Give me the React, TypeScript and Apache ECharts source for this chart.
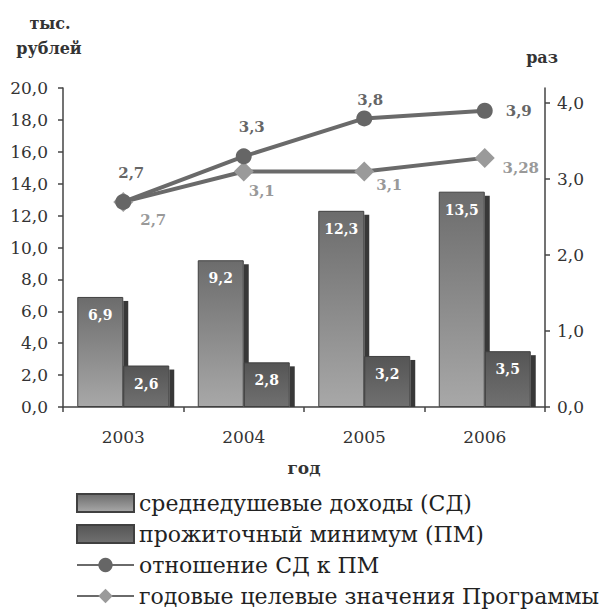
import React, { useEffect, useRef } from 'react';
import * as echarts from 'echarts';

// ---- data ----
const years = ['2003', '2004', '2005', '2006'];
const incomePerCapita = [6.9, 9.2, 12.3, 13.5];
const subsistenceMinimum = [2.6, 2.8, 3.2, 3.5];
const incomeToMinimumRatio = [2.7, 3.3, 3.8, 3.9];
const programTargets = [2.7, 3.1, 3.1, 3.28];
const leftAxisMax = 20;
const leftAxisStep = 2;
const rightAxisTicks = [0, 1, 2, 3, 4];
const rightAxisMax = 4.2;

const SD = 'среднедушевые доходы (СД)';
const PM = 'прожиточный минимум (ПМ)';
const RATIO = 'отношение СД к ПМ';
const TARGET = 'годовые целевые значения Программы';

// ---- styling ----
const FONT = 'DejaVu Serif';
const BAR_WIDTH = 46;
const DEPTH = 5;
const ratioLabelOffsets = [[8, -29], [8, -29], [6, -18], [34, 0]];
const targetLabelOffsets = [[30, 18], [18, 19], [25, 13], [36, 10]];

const fmt = (v: number) => String(v).replace('.', ',');

export default function App() {
  const ref = useRef<HTMLDivElement>(null);

  useEffect(() => {
    document.body.style.margin = '0';
    const chart = echarts.init(ref.current!, undefined, { renderer: 'svg' });

    const depthSeries = (name: string, values: number[], rightOffset: number) => ({
      type: 'custom',
      name,
      yAxisIndex: 0,
      silent: true,
      z: 2,
      data: values.map((v, i) => [i, v]),
      renderItem: (_params: any, api: any) => {
        const top = api.coord([api.value(0), api.value(1)]);
        const base = api.coord([api.value(0), 0]);
        return {
          type: 'rect',
          shape: {
            x: top[0] + rightOffset,
            y: top[1] + DEPTH - 1,
            width: DEPTH,
            height: base[1] - top[1] - DEPTH + 1,
          },
          style: { fill: '#383838' },
        };
      },
    });

    const barLabel = {
      show: true,
      position: 'insideTop',
      distance: 11,
      color: '#ffffff',
      fontWeight: 'bold',
      fontSize: 14,
      fontFamily: FONT,
      formatter: (p: any) => fmt(p.value),
    };

    chart.setOption({
      animation: false,
      backgroundColor: '#ffffff',
      textStyle: { fontFamily: FONT },
      grid: { left: 63, right: 58, top: 88, bottom: 204, containLabel: false },
      legend: {
        orient: 'vertical',
        left: 76,
        top: 492,
        padding: 0,
        itemWidth: 57,
        itemHeight: 18,
        itemGap: 9,
        selectedMode: false,
        textStyle: { fontFamily: FONT, fontSize: 22, color: '#222', lineHeight: 22 },
        data: [
          { name: SD, icon: 'rect' },
          { name: PM, icon: 'rect' },
          { name: RATIO },
          { name: TARGET },
        ],
      },
      xAxis: {
        type: 'category',
        data: years,
        boundaryGap: true,
        axisLine: { lineStyle: { color: '#444', width: 1.5 } },
        axisTick: { show: true, length: 5, alignWithLabel: false, lineStyle: { color: '#444', width: 1.5 } },
        axisLabel: { fontFamily: FONT, fontSize: 17, color: '#333', margin: 21 },
        splitLine: { show: false },
      },
      yAxis: [
        {
          type: 'value',
          min: 0,
          max: leftAxisMax,
          interval: leftAxisStep,
          axisLine: { show: true, lineStyle: { color: '#444', width: 1.5 } },
          axisTick: { show: true, length: 5, lineStyle: { color: '#444', width: 1.5 } },
          axisLabel: {
            fontFamily: FONT,
            fontSize: 17,
            color: '#333',
            margin: 15,
            formatter: (v: number) => v.toFixed(1).replace('.', ','),
          },
          splitLine: { show: false },
        },
        {
          type: 'value',
          position: 'right',
          min: 0,
          max: rightAxisMax,
          interval: 1,
          axisLine: { show: true, lineStyle: { color: '#444', width: 1.5 } },
          axisTick: { show: true, length: 5, customValues: rightAxisTicks, lineStyle: { color: '#444', width: 1.5 } },
          axisLabel: {
            fontFamily: FONT,
            fontSize: 17,
            color: '#333',
            margin: 12,
            customValues: rightAxisTicks,
            formatter: (v: number) => v.toFixed(1).replace('.', ','),
          },
          splitLine: { show: false },
        },
      ],
      graphic: [
        { type: 'text', x: 50, y: 23, style: { text: 'тыс.', font: `bold 16px "${FONT}"`, fill: '#333', align: 'center', verticalAlign: 'middle' } },
        { type: 'text', x: 49, y: 48, style: { text: 'рублей', font: `bold 16px "${FONT}"`, fill: '#333', align: 'center', verticalAlign: 'middle' } },
        { type: 'text', x: 542, y: 57, style: { text: 'раз', font: `bold 16px "${FONT}"`, fill: '#333', align: 'center', verticalAlign: 'middle' } },
        { type: 'text', x: 304, y: 468, style: { text: 'год', font: `bold 17px "${FONT}"`, fill: '#333', align: 'center', verticalAlign: 'middle' } },
      ],
      series: [
        depthSeries('sd-depth', incomePerCapita, 0),
        depthSeries('pm-depth', subsistenceMinimum, BAR_WIDTH),
        {
          type: 'bar',
          name: SD,
          yAxisIndex: 0,
          data: incomePerCapita,
          barWidth: BAR_WIDTH,
          barGap: '0%',
          z: 3,
          itemStyle: {
            color: new echarts.graphic.LinearGradient(0, 0, 0, 1, [
              { offset: 0, color: '#6c6c6c' },
              { offset: 1, color: '#a8a8a8' },
            ]),
            borderColor: '#404040',
            borderWidth: 1,
          },
          label: barLabel,
        },
        {
          type: 'bar',
          name: PM,
          yAxisIndex: 0,
          data: subsistenceMinimum,
          barWidth: BAR_WIDTH,
          barGap: '0%',
          z: 3,
          itemStyle: {
            color: new echarts.graphic.LinearGradient(0, 0, 0, 1, [
              { offset: 0, color: '#555555' },
              { offset: 1, color: '#707070' },
            ]),
            borderColor: '#404040',
            borderWidth: 1,
          },
          label: barLabel,
        },
        {
          type: 'line',
          name: RATIO,
          yAxisIndex: 1,
          z: 6,
          symbol: 'circle',
          symbolSize: 16,
          lineStyle: { color: '#6a6a6a', width: 4 },
          itemStyle: { color: '#666666' },
          data: incomeToMinimumRatio.map((v, i) => ({ value: v, label: { offset: ratioLabelOffsets[i] } })),
          label: {
            show: true,
            position: 'inside',
            color: '#666',
            fontWeight: 'bold',
            fontSize: 15,
            fontFamily: FONT,
            formatter: (p: any) => fmt(p.value),
          },
        },
        {
          type: 'line',
          name: TARGET,
          yAxisIndex: 1,
          z: 5,
          symbol: 'diamond',
          symbolSize: 20,
          lineStyle: { color: '#6a6a6a', width: 4 },
          itemStyle: { color: '#9a9a9a' },
          data: programTargets.map((v, i) => ({ value: v, label: { offset: targetLabelOffsets[i] } })),
          label: {
            show: true,
            position: 'inside',
            color: '#999',
            fontWeight: 'bold',
            fontSize: 15,
            fontFamily: FONT,
            formatter: (p: any) => fmt(p.value),
          },
        },
      ],
    });

    return () => chart.dispose();
  }, []);

  return <div ref={ref} style={{ position: 'fixed', left: 0, top: 0, width: 603, height: 611 }} />;
}
